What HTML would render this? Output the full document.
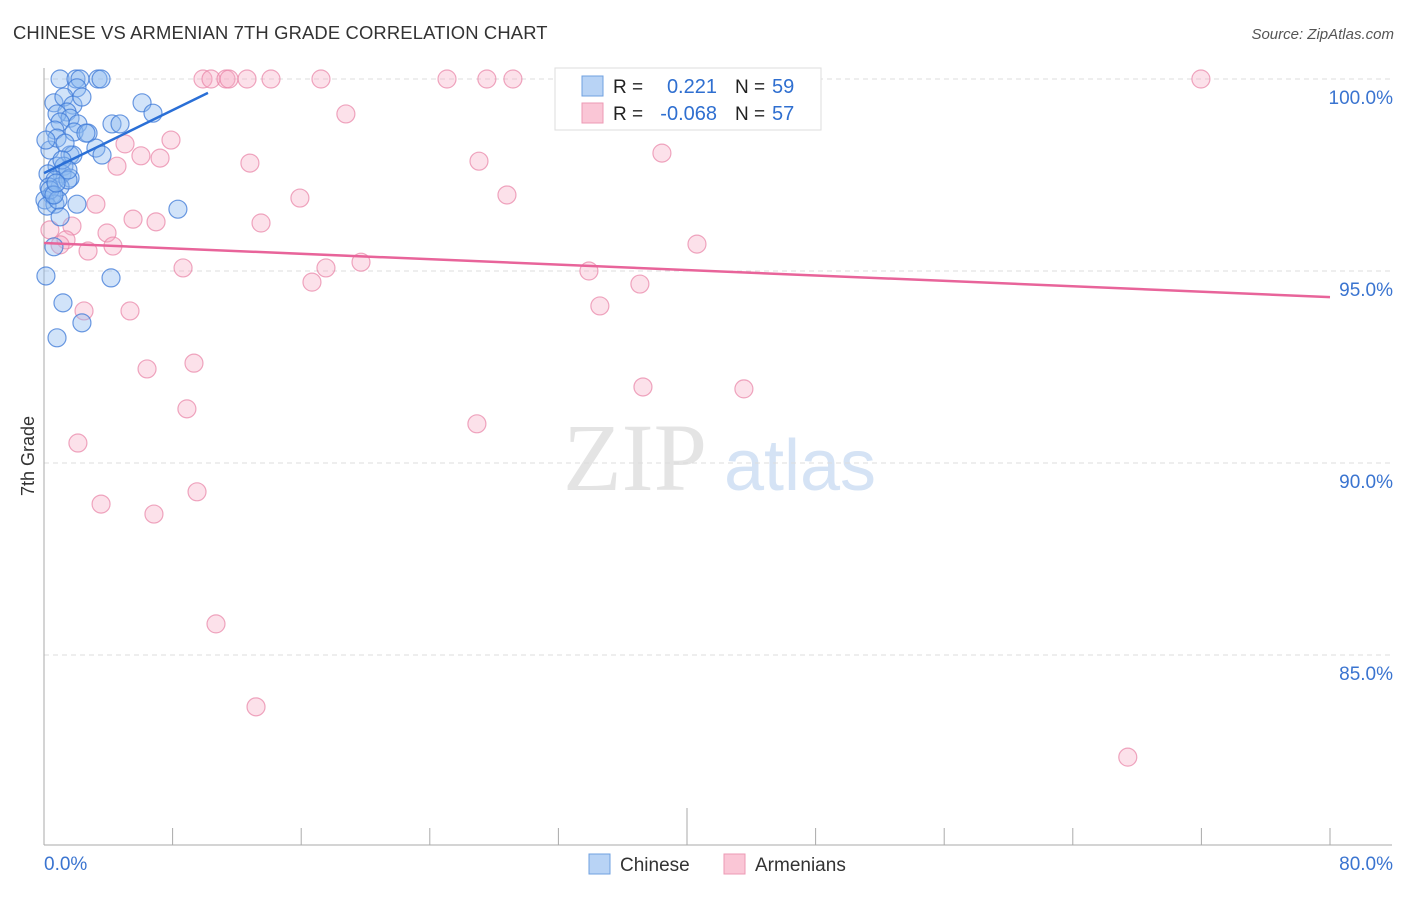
<!DOCTYPE html>
<html><head><meta charset="utf-8"><style>
body{margin:0;background:#fff;font-family:"Liberation Sans",sans-serif}
svg text{font-family:"Liberation Sans",sans-serif}
</style></head><body>
<svg width="1406" height="892" xmlns="http://www.w3.org/2000/svg">
<text x="13" y="39" font-size="18.4" fill="#333" letter-spacing="0.15">CHINESE VS ARMENIAN 7TH GRADE CORRELATION CHART</text>
<text x="1394" y="39" font-size="15" fill="#555" text-anchor="end" font-style="italic">Source: ZipAtlas.com</text>
<g>
<text x="635" y="490" font-size="96" fill="#e4e4e4" text-anchor="middle" font-family="Liberation Serif" style="font-family:'Liberation Serif',serif">ZIP</text>
<text x="800" y="490" font-size="72" fill="#d5e3f5" text-anchor="middle">atlas</text>
</g>
<g id="grid"></g>
<g id="axes"></g>
<g id="marks"></g>
<text transform="translate(34,456) rotate(-90)" font-size="18" fill="#333" text-anchor="middle">7th Grade</text>
<g>
<rect x="555" y="68" width="266" height="62" fill="#fff" stroke="#ddd"/>
<rect x="582" y="76" width="21" height="20" fill="#b8d3f5" stroke="#6fa0e0"/>
<rect x="582" y="103" width="21" height="20" fill="#fac6d6" stroke="#ec9ab4"/>
<text x="613" y="93" font-size="19" fill="#222">R =</text>
<text x="717" y="93" font-size="20" fill="#2f6fd0" text-anchor="end">0.221</text>
<text x="735" y="93" font-size="19" fill="#222">N =</text>
<text x="772" y="93" font-size="20" fill="#2f6fd0">59</text>
<text x="613" y="120" font-size="19" fill="#222">R =</text>
<text x="717" y="120" font-size="20" fill="#2f6fd0" text-anchor="end">-0.068</text>
<text x="735" y="120" font-size="19" fill="#222">N =</text>
<text x="772" y="120" font-size="20" fill="#2f6fd0">57</text>
</g>
<g>
<rect x="589" y="854" width="21" height="20" fill="#b8d3f5" stroke="#6fa0e0"/>
<text x="620" y="871" font-size="19" fill="#333">Chinese</text>
<rect x="724" y="854" width="21" height="20" fill="#fac6d6" stroke="#ec9ab4"/>
<text x="755" y="871" font-size="19" fill="#333">Armenians</text>
</g>
</svg>
<script>
const yTicks=[100,95,90,85];
const yTickLabels=["100.0%","95.0%","90.0%","85.0%"];
const chineseX=[1.00,1.99,2.24,3.36,3.55,2.05,0.62,1.24,1.80,2.36,1.43,0.81,1.62,1.00,2.11,0.68,1.87,2.74,2.61,4.23,4.73,6.10,6.78,1.62,1.80,3.23,3.61,0.81,1.24,1.12,1.62,0.25,0.68,1.00,0.31,0.50,0.06,0.68,0.19,2.05,1.00,8.33,0.62,0.12,4.17,1.18,2.36,0.81,0.37,0.81,1.31,0.12,0.37,1.49,1.12,0.87,0.62,1.49,0.75];
const chineseY=[100,100,100,100,100,99.77,99.38,99.53,99.32,99.53,99.14,99.09,98.98,98.88,98.83,98.67,98.62,98.59,98.59,98.83,98.83,99.38,99.11,98.02,98.02,98.20,98.02,97.73,97.73,97.53,97.42,97.53,97.37,97.19,97.19,96.98,96.85,96.74,96.69,96.74,96.41,96.61,95.63,94.87,94.82,94.17,93.65,93.26,98.15,98.46,98.33,98.41,97.11,97.37,97.89,96.85,96.98,97.63,97.29];
const armX=[9.89,10.39,11.32,11.51,12.63,14.12,17.23,25.07,27.55,29.17,32.84,71.97,18.78,7.90,5.04,6.03,7.22,4.54,12.81,38.44,27.06,15.92,28.80,3.23,5.54,6.97,13.50,1.74,3.92,40.62,4.29,2.74,1.37,19.72,17.54,8.65,33.90,16.67,37.07,34.58,2.49,5.35,9.33,6.41,37.26,43.54,8.89,26.93,2.11,9.52,3.55,6.84,10.70,13.19,67.42,0.37,1.00];
const armY=[100,100,100,100,100,100,100,100,100,100,100,100,99.09,98.41,98.31,98.00,97.94,97.73,97.81,98.07,97.86,96.90,96.98,96.74,96.35,96.28,96.25,96.17,95.99,95.70,95.65,95.52,95.81,95.23,95.08,95.08,95.00,94.71,94.66,94.09,93.96,93.96,92.60,92.45,91.98,91.93,91.41,91.02,90.52,89.25,88.93,88.67,85.81,83.65,82.34,96.07,95.68];
const chineseTrend=[[0,97.55],[10.2,99.64]];
const armTrend=[[0,95.73],[80,94.32]];
const NS="http://www.w3.org/2000/svg";
const sx=v=>44+v/80*1286, sy=v=>79+(100-v)*38.4;
function mk(t,a,p){const e=document.createElementNS(NS,t);for(const k in a)e.setAttribute(k,a[k]);p.appendChild(e);return e;}
const grid=document.getElementById('grid'),axes=document.getElementById('axes'),marks=document.getElementById('marks');
yTicks.forEach((t,i)=>{
 const l=mk('line',{x1:44,x2:1392,y1:sy(t),y2:sy(t),stroke:'#ddd','stroke-dasharray':'5,4'},grid);
 
 
 const tx=mk('text',{x:1393,y:sy(t)+25,'font-size':19,fill:'#3a74d0','text-anchor':'end'},axes);
 tx.textContent=yTickLabels[i];
 
 
});
mk('line',{x1:44,x2:44,y1:68,y2:845,stroke:'#aaa'},axes);
mk('line',{x1:44,x2:1392,y1:845,y2:845,stroke:'#aaa'},axes);
for(let k=1;k<=10;k++){const x=sx(k*8);const t=mk('line',{x1:x,x2:x,y1:k==5?808:828,y2:845,stroke:'#aaa'},axes);
 
 }
const x0=mk('text',{x:44,y:870,'font-size':19,fill:'#3a74d0'},axes);x0.textContent='0.0%';


const x1=mk('text',{x:1393,y:870,'font-size':19,fill:'#3a74d0','text-anchor':'end'},axes);x1.textContent='80.0%';


armX.forEach((x,i)=>{const c=mk('circle',{cx:sx(x),cy:sy(armY[i]),r:9,fill:'rgba(247,170,196,0.35)',stroke:'rgba(232,130,165,0.7)','stroke-width':1.2},marks);
 
 });
chineseX.forEach((x,i)=>{const c=mk('circle',{cx:sx(x),cy:sy(chineseY[i]),r:9,fill:'rgba(140,185,240,0.4)',stroke:'rgba(60,120,215,0.75)','stroke-width':1.2},marks);
 
 });
const tb=mk('line',{x1:sx(chineseTrend[0][0]),y1:sy(chineseTrend[0][1]),x2:sx(chineseTrend[1][0]),y2:sy(chineseTrend[1][1]),stroke:'#2a6fd6','stroke-width':2.5},marks);


const tp=mk('line',{x1:sx(armTrend[0][0]),y1:sy(armTrend[0][1]),x2:sx(armTrend[1][0]),y2:sy(armTrend[1][1]),stroke:'#e8649a','stroke-width':2.5},marks);


</script>
</body></html>
